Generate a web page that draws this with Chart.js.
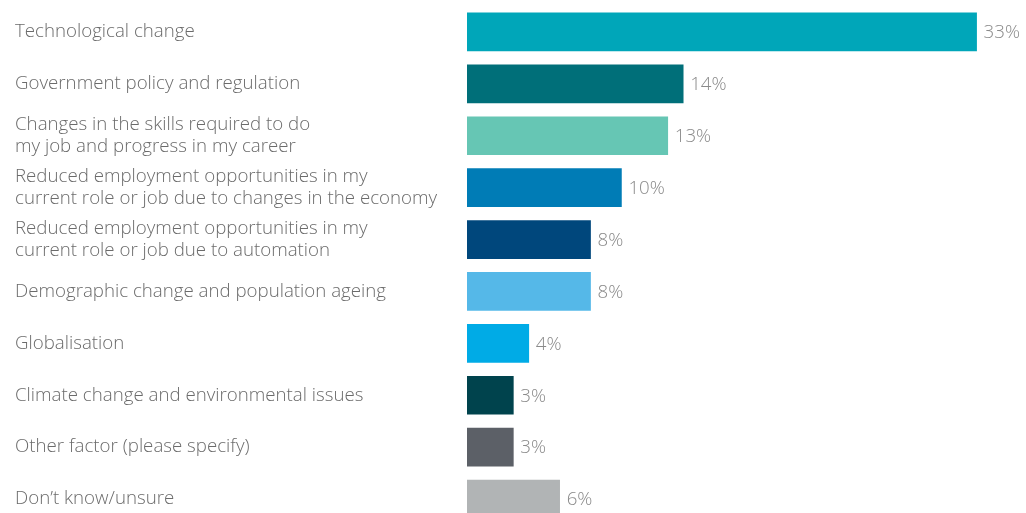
<!DOCTYPE html>
<html>
<head>
<meta charset="utf-8">
<script src="https://cdn.jsdelivr.net/npm/chart.js@4"></script>
<style>
  html, body { margin: 0; padding: 0; background: #fff; overflow: hidden; }
  #wrap { position: relative; width: 1026px; height: 541px; margin-top: -5px; }
</style>
</head>
<body>
<div id="wrap"><canvas id="factorsChart"></canvas></div>
<script>
// survey categories, multi-line ones split into arrays
const factorLabels = [
    'Technological change',
    'Government policy and regulation',
    ['Changes in the skills required to do', 'my job and progress in my career'],
    ['Reduced employment opportunities in my', 'current role or job due to changes in the economy'],
    ['Reduced employment opportunities in my', 'current role or job due to automation'],
    'Demographic change and population ageing',
    'Globalisation',
    'Climate change and environmental issues',
    'Other factor (please specify)',
    'Don\u2019t know/unsure'
];
const factorValues = [33, 14, 13, 10, 8, 8, 4, 3, 3, 6];
const barColours = [
    '#00a6b9', '#006f79', '#66c6b4', '#007cb6', '#00477c',
    '#55b8e8', '#00abe6', '#00434d', '#5c6067', '#b1b4b5'
];

const FONT_SIZE = 18.7;

// percent text after each bar
const valueLabels = {
    id: 'valueLabels',
    afterDatasetsDraw(chart) {
        const ctx = chart.ctx;
        const meta = chart.getDatasetMeta(0);
        ctx.save();
        ctx.font = '300 ' + FONT_SIZE + 'px "Open Sans"';
        ctx.fillStyle = '#8a8a8a';
        ctx.textAlign = 'left';
        ctx.textBaseline = 'middle';
        meta.data.forEach((bar, i) => {
            ctx.fillText(factorValues[i] + '%', bar.x + 7, bar.y + 1);
        });
        ctx.restore();
    }
};

const ctx = document.getElementById('factorsChart').getContext('2d');
const factorsChart = new Chart(ctx, {
    type: 'bar',
    data: {
        labels: factorLabels,
        datasets: [{
            data: factorValues,
            backgroundColor: barColours,
            barThickness: 38,
            borderWidth: 0
        }]
    },
    options: {
        indexAxis: 'y',
        responsive: true,
        maintainAspectRatio: false,
        animation: false,
        layout: { padding: { left: 15, top: 0, bottom: 0, right: 0 } },
        plugins: {
            legend: { display: false },
            tooltip: { enabled: false }
        },
        scales: {
            x: {
                display: false,
                min: 0,
                max: 36.2
            },
            y: {
                grid: { display: false },
                border: { display: false },
                afterFit(scale) { scale.width = 452; },
                ticks: {
                    crossAlign: 'far',
                    color: '#6b6b6b',
                    padding: 0,
                    font: { family: '"Open Sans"', size: FONT_SIZE, weight: 300, lineHeight: 22 / FONT_SIZE }
                }
            }
        }
    },
    plugins: [valueLabels]
});
</script>
</body>
</html>
